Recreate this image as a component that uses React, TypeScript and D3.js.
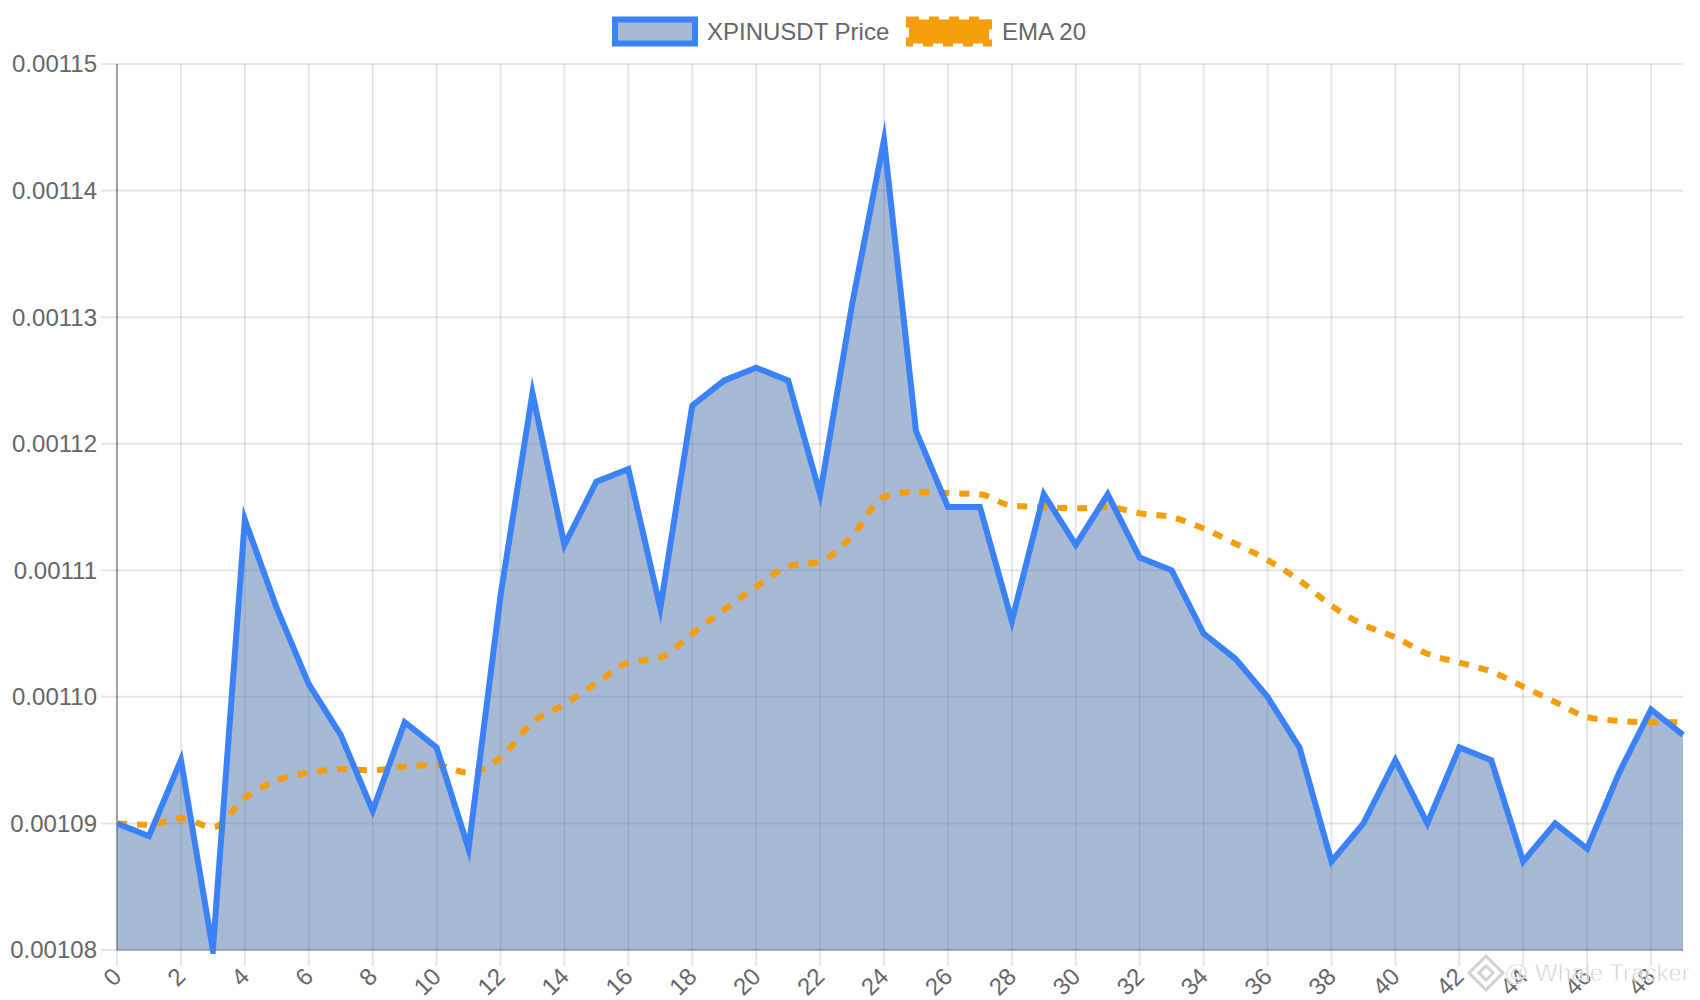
import * as d3 from "d3";

// price + EMA, index 0..49
const labels = d3.range(50).map(String);

const price = [
  0.00109, 0.001089, 0.001095, 0.00108, 0.001114, 0.001107, 0.001101, 0.001097, 0.001091, 0.001098,
  0.001096, 0.001088, 0.001108, 0.001124, 0.001112, 0.001117, 0.001118, 0.001107, 0.001123, 0.001125,
  0.001126, 0.001125, 0.001116, 0.001131, 0.001144, 0.001121, 0.001115, 0.001115, 0.001106, 0.001116,
  0.001112, 0.001116, 0.001111, 0.00111, 0.001105, 0.001103, 0.0011, 0.001096, 0.001087, 0.00109,
  0.001095, 0.00109, 0.001096, 0.001095, 0.001087, 0.00109, 0.001088, 0.001094, 0.001099, 0.001097,
];

const ema20 = [
  0.00109, 0.0010899, 0.0010904, 0.0010897, 0.001092, 0.0010934, 0.001094, 0.0010943, 0.0010942, 0.0010945,
  0.0010946, 0.001094, 0.0010952, 0.001098, 0.0010994, 0.0011011, 0.0011027, 0.0011031, 0.001105, 0.0011069,
  0.0011087, 0.0011103, 0.0011107, 0.0011127, 0.0011158, 0.0011162, 0.0011161, 0.001116, 0.0011151, 0.001115,
  0.0011149, 0.001115, 0.0011145, 0.0011142, 0.0011133, 0.0011121, 0.0011108, 0.0011092, 0.0011072, 0.0011057,
  0.0011047, 0.0011034, 0.0011027, 0.001102, 0.0011008, 0.0010996, 0.0010984, 0.0010981, 0.001098, 0.001098,
];

const yTicks = [0.00108, 0.00109, 0.0011, 0.00111, 0.00112, 0.00113, 0.00114, 0.00115];
const seriesNames = ["XPINUSDT Price", "EMA 20"];

const W = 1700, H = 1000;
const left = 117, right = 1683, top = 64, bottom = 950;
const font = "'Liberation Sans', Arial, Helvetica, sans-serif";
const blue = "#3b82f6";
const orange = "#f59e0b";
const fillCol = "rgba(79,115,167,0.5)";
const grid = "rgba(0,0,0,0.1)";

const x = d3.scaleLinear().domain([0, labels.length - 1]).range([left, right]);
const y = d3.scaleLinear().domain([0.00108, 0.00115]).range([bottom, top]);

export default function App() {
  const priceLine = d3.line<number>().x((_, i) => x(i)).y((d) => y(d))(price) || "";
  const priceArea = d3.area<number>().x((_, i) => x(i)).y0(bottom).y1((d) => y(d))(price) || "";
  const emaLine = d3.line<number>().x((_, i) => x(i)).y((d) => y(d)).curve(d3.curveMonotoneX)(ema20) || "";

  const shownX = labels.filter((_, i) => i % 2 === 0);

  return (
    <svg width={W} height={H} style={{ position: "fixed", left: 0, top: 0, background: "#fff" }} fontFamily={font}>
      <defs>
        <clipPath id="plotClip">
          <rect x={left} y={top - 10} width={right - left + 4} height={bottom - top + 14} />
        </clipPath>
      </defs>

      {/* horizontal grid + y labels */}
      {yTicks.map((t) => (
        <g key={t}>
          <line x1={left - 16} x2={right} y1={y(t)} y2={y(t)} stroke={grid} strokeWidth={2} />
          <text x={97} y={y(t)} dy="0.35em" textAnchor="end" fontSize={24} fill="#666">
            {d3.format(".5f")(t)}
          </text>
        </g>
      ))}

      {/* vertical grid + rotated x labels */}
      {shownX.map((l) => {
        const xi = x(+l);
        return (
          <g key={l}>
            <line x1={xi} x2={xi} y1={top} y2={bottom + 16} stroke={grid} strokeWidth={2} />
            <text transform={`translate(${xi},${972}) rotate(-45)`} dy="0.35em" textAnchor="end" fontSize={24} fill="#666">
              {l}
            </text>
          </g>
        );
      })}

      {/* axis borders */}
      <line x1={left} x2={left} y1={top} y2={bottom} stroke="rgba(0,0,0,0.3)" strokeWidth={2} />
      <line x1={left} x2={right} y1={bottom} y2={bottom} stroke="rgba(0,0,0,0.2)" strokeWidth={2} />

      <g clipPath="url(#plotClip)">
        <path d={priceArea} fill={fillCol} stroke="none" />
        <path d={emaLine} fill="none" stroke={orange} strokeWidth={6} strokeDasharray="10,10" />
        <path d={priceLine} fill="none" stroke={blue} strokeWidth={6} strokeLinejoin="miter" strokeMiterlimit={10} />
      </g>

      {/* legend */}
      <g>
        <rect x={615} y={19.5} width={80} height={24} fill={fillCol} stroke={blue} strokeWidth={6} />
        <text x={707} y={31.5} dy="0.35em" fontSize={24} fill="#666">{seriesNames[0]}</text>
        <rect x={909} y={19.5} width={80} height={24} fill={orange} stroke={orange} strokeWidth={6} strokeDasharray="10,10" />
        <text x={1002} y={31.5} dy="0.35em" fontSize={24} fill="#666">{seriesNames[1]}</text>
      </g>

      {/* watermark */}
      <g opacity={0.8}>
        <g transform="translate(1486,973)" fill="none" stroke="#c8c8c8" strokeWidth={3}>
          <rect x={-5} y={-5} width={10} height={10} transform="rotate(45)" />
          <rect x={-12} y={-12} width={24} height={24} transform="rotate(45)" />
        </g>
        <text x={1504} y={973} dy="0.35em" fontSize={24} fill="#bdbdbd" stroke="#fff" strokeWidth={0.8}>
          @ Whale Tracker
        </text>
      </g>
    </svg>
  );
}
